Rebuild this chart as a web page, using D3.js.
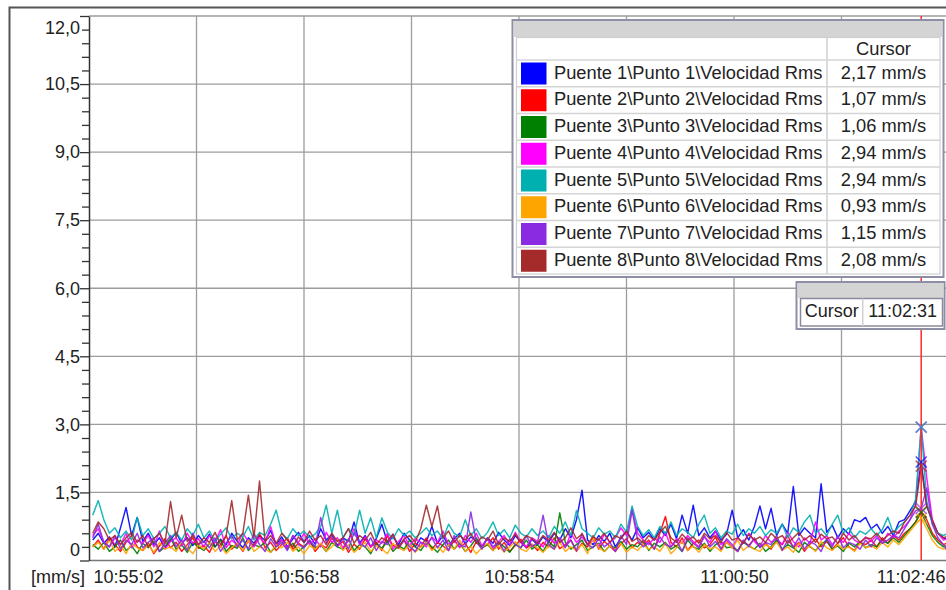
<!DOCTYPE html>
<html><head><meta charset="utf-8">
<script src="https://cdn.jsdelivr.net/npm/d3@7"></script>
<style>
html,body{margin:0;padding:0;background:#fff;}
svg{display:block;font-family:"Liberation Sans",Arial,sans-serif;}
</style></head><body>
<svg id="chart" width="946" height="590"></svg>
<script>
// ---------- DATA ----------
const seriesNames = [
  "Puente 1\\Punto 1\\Velocidad Rms","Puente 2\\Punto 2\\Velocidad Rms",
  "Puente 3\\Punto 3\\Velocidad Rms","Puente 4\\Punto 4\\Velocidad Rms",
  "Puente 5\\Punto 5\\Velocidad Rms","Puente 6\\Punto 6\\Velocidad Rms",
  "Puente 7\\Punto 7\\Velocidad Rms","Puente 8\\Punto 8\\Velocidad Rms"];
const seriesColors = ["#0000ff","#ff0000","#008000","#ff00ff","#00b0b0","#ffa500","#8a2be2","#a52a2a"];
const cursorValues = [2.17,1.07,1.06,2.94,2.94,0.93,1.15,2.08];
const cursorLabels = ["2,17 mm/s","1,07 mm/s","1,06 mm/s","2,94 mm/s","2,94 mm/s","0,93 mm/s","1,15 mm/s","2,08 mm/s"];
const cursorHeader = "Cursor";
const cursorTime = "11:02:31";
const yTickValues = [0,1.5,3,4.5,6,7.5,9,10.5,12];
const yTickLabels = ["0","1,5","3,0","4,5","6,0","7,5","9,0","10,5","12,0"];
const yMinorStep = 0.3;
const yUnitLabel = "[mm/s]";
const xTickLabels = ["10:55:02","10:56:58","10:58:54","11:00:50","11:02:46"];
const sampleStart = "10:55:04";
const sampleStepSec = 3;

const s1 = [
0.45,0.6,0.38,0.52,0.3,0.72,1.17,0.55,0.95,0.42,0.6,0.35,0.5,0.28,0.45,0.62,0.38,0.5,0.33,0.55,
0.4,0.58,0.3,0.47,0.35,0.6,0.42,0.28,0.5,0.38,0.55,0.44,0.66,0.35,0.52,0.3,0.48,0.62,0.4,0.55,
0.36,0.7,0.45,0.58,0.33,0.5,0.42,0.85,0.38,0.55,0.3,0.48,0.8,0.4,0.52,0.35,0.6,0.45,0.3,0.5,
0.42,0.75,0.38,0.55,0.32,0.48,0.6,0.36,0.52,0.44,0.3,0.5,0.38,0.62,0.45,0.33,0.55,0.4,0.28,0.47,
0.35,0.52,0.4,0.6,0.45,0.7,0.5,0.9,1.55,0.45,0.35,0.55,0.42,0.6,0.3,0.5,0.65,0.45,0.72,0.5,
0.62,0.45,0.7,0.55,0.8,0.48,1.0,0.6,1.22,0.55,0.72,0.5,0.65,0.45,0.58,1.11,0.5,0.68,0.45,0.75,
1.2,0.7,1.15,0.55,0.8,0.6,1.63,0.55,0.72,0.6,0.5,1.69,0.62,0.78,0.5,0.7,0.58,0.9,0.85,0.95,
0.7,0.8,0.6,0.75,0.55,0.85,0.9,1.1,1.3,2.17,1.2,0.85,0.6,0.5,0.45,0.4,0.42,0.38];
const s2 = [
0.3,0.45,0.25,0.5,0.35,0.2,0.4,0.55,0.3,0.22,0.38,0.15,0.32,0.48,0.28,0.4,0.2,0.35,0.5,0.27,
0.33,0.18,0.42,0.3,0.55,0.25,0.38,0.2,0.45,0.32,0.6,0.28,0.4,0.22,0.35,0.5,0.25,0.38,0.3,0.45,
0.2,0.35,0.28,0.5,0.32,0.42,0.18,0.36,0.25,0.48,0.3,0.4,0.22,0.55,0.33,0.27,0.45,0.2,0.38,0.3,
0.5,0.25,0.4,0.32,0.22,0.45,0.3,0.38,0.18,0.42,0.28,0.35,0.5,0.25,0.4,0.2,0.33,0.47,0.28,0.36,
0.22,0.4,0.3,0.5,0.26,0.35,0.45,0.2,0.38,0.3,0.55,0.25,0.42,0.32,0.2,0.37,0.48,0.28,0.4,0.33,
0.45,0.25,0.6,0.97,0.4,0.3,0.5,0.22,0.38,0.45,0.28,0.35,0.52,0.25,0.4,0.3,0.2,0.42,0.33,0.48,
0.3,0.38,0.25,0.45,0.35,0.55,0.28,0.4,0.2,0.36,0.48,0.3,0.42,0.25,0.38,0.5,0.3,0.22,0.4,0.35,
0.45,0.3,0.5,0.38,0.55,0.45,0.6,0.7,0.85,1.07,0.9,0.6,0.45,0.35,0.4,0.3,0.35,0.28];
const s3 = [
0.35,0.25,0.4,0.2,0.3,0.45,0.22,0.32,0.15,0.38,0.28,0.42,0.2,0.3,0.5,0.25,0.35,0.18,0.4,0.3,
0.22,0.38,0.3,0.45,0.2,0.33,0.27,0.5,0.22,0.35,0.3,0.4,0.18,0.32,0.45,0.25,0.38,0.2,0.3,0.42,
0.28,0.35,0.2,0.4,0.3,0.25,0.48,0.22,0.35,0.3,0.15,0.38,0.27,0.42,0.2,0.33,0.25,0.45,0.3,0.22,
0.4,0.3,0.18,0.35,0.45,0.25,0.38,0.2,0.32,0.5,0.28,0.35,0.22,0.4,0.3,0.18,0.36,0.28,0.45,0.25,
0.35,0.2,0.42,0.3,1.05,0.4,0.25,0.35,0.45,0.22,0.3,0.38,0.2,0.32,0.28,0.42,0.25,0.35,0.3,0.45,
0.22,0.38,0.3,0.4,0.25,0.33,0.2,0.45,0.3,0.25,0.38,0.2,0.35,0.42,0.28,0.3,0.22,0.4,0.32,0.25,
0.38,0.2,0.3,0.45,0.25,0.35,0.28,0.18,0.4,0.3,0.22,0.35,0.45,0.25,0.32,0.2,0.38,0.3,0.42,0.28,
0.35,0.3,0.45,0.38,0.5,0.4,0.55,0.7,0.85,1.06,0.8,0.55,0.4,0.3,0.35,0.28,0.32,0.25];
const s4 = [
0.55,0.7,0.4,0.3,0.5,0.35,0.6,0.28,0.45,0.38,0.55,0.3,0.65,0.25,0.42,0.5,0.32,0.6,0.38,0.48,
0.3,0.55,0.4,0.68,0.28,0.45,0.35,0.6,0.42,0.3,0.5,0.38,0.75,0.32,0.46,0.28,0.55,0.4,0.6,0.35,
0.48,0.3,0.62,0.4,0.5,0.28,0.44,0.7,0.35,0.52,0.3,0.45,0.38,0.6,0.25,0.42,0.55,0.33,0.48,0.4,
0.3,0.52,0.4,0.65,0.35,0.45,0.28,0.55,0.4,0.6,0.32,0.48,0.25,0.42,0.55,0.35,0.62,0.4,0.3,0.5,
0.42,0.3,0.55,0.38,0.48,0.28,0.6,0.4,0.52,0.35,0.45,0.3,0.58,0.4,0.5,0.72,0.55,1.15,0.6,0.45,
0.35,0.5,0.4,0.62,0.3,0.48,0.38,0.55,0.42,0.3,0.52,0.4,0.65,0.35,0.45,0.28,0.5,0.38,0.6,0.42,
0.3,0.55,0.4,0.48,0.35,0.62,0.42,0.3,0.5,0.38,0.85,0.45,0.55,0.35,0.5,0.4,0.6,0.45,0.38,0.52,
0.42,0.55,0.38,0.6,0.5,0.65,0.75,0.9,1.25,2.94,1.82,0.9,0.6,0.45,0.5,0.4,0.45,0.38];
const s5 = [
1.0,1.32,0.9,0.6,0.72,0.5,0.65,0.45,0.95,0.55,0.7,0.48,0.6,0.75,0.5,0.62,0.45,0.7,0.55,0.8,
0.5,0.65,0.42,0.58,0.72,0.48,0.6,0.52,0.75,0.45,0.62,0.55,0.8,1.11,0.6,0.48,0.7,0.55,0.65,0.5,
0.58,0.75,1.22,0.6,1.11,0.5,0.7,0.55,1.11,0.6,0.94,0.5,0.94,0.62,0.48,0.7,0.55,0.65,0.5,0.6,
0.72,0.55,0.65,0.48,0.8,0.6,0.52,0.9,0.55,0.7,0.48,0.62,0.85,0.55,0.68,0.5,0.78,0.6,0.52,0.7,
0.55,0.65,0.5,0.75,0.6,0.85,0.55,1.1,0.7,0.6,0.5,0.72,0.58,0.65,0.5,0.8,0.62,1.2,0.75,0.55,
0.68,0.5,0.75,0.6,0.85,0.55,0.7,0.62,0.5,0.8,1.0,0.6,0.72,0.5,0.65,0.58,0.8,0.55,0.7,0.6,
0.75,0.55,0.68,0.6,0.8,0.5,0.72,0.62,0.85,1.0,0.6,0.7,0.55,0.8,1.0,0.6,0.72,0.5,0.65,0.58,
0.7,0.55,0.68,0.95,0.6,0.75,0.85,1.0,1.35,2.94,1.3,0.8,0.6,0.55,0.62,0.5,0.58,0.52];
const s6 = [
0.3,0.4,0.25,0.45,0.2,0.32,0.15,0.38,0.28,0.22,0.35,0.18,0.4,0.25,0.3,0.2,0.42,0.28,0.15,0.35,
0.25,0.4,0.2,0.32,0.15,0.28,0.38,0.22,0.45,0.2,0.3,0.25,0.18,0.35,0.28,0.4,0.2,0.3,0.15,0.33,
0.25,0.38,0.2,0.3,0.45,0.22,0.35,0.18,0.28,0.4,0.2,0.32,0.25,0.15,0.38,0.28,0.22,0.35,0.18,0.3,
0.4,0.22,0.32,0.18,0.35,0.25,0.45,0.2,0.3,0.15,0.28,0.38,0.22,0.33,0.18,0.3,0.42,0.25,0.2,0.35,
0.28,0.18,0.32,0.25,0.4,0.2,0.3,0.22,0.35,0.15,0.5,0.28,0.2,0.33,0.25,0.38,0.18,0.3,0.22,0.35,
0.25,0.3,0.2,0.38,0.15,0.28,0.42,0.22,0.32,0.18,0.35,0.25,0.3,0.2,0.4,0.28,0.45,0.22,0.33,0.25,
0.2,0.35,0.28,0.4,0.22,0.3,0.18,0.38,0.25,0.32,0.2,0.42,0.28,0.22,0.35,0.25,0.3,0.2,0.38,0.28,
0.32,0.25,0.4,0.3,0.45,0.35,0.5,0.65,0.8,0.93,0.7,0.45,0.3,0.25,0.3,0.22,0.28,0.2];
const s7 = [
0.5,0.8,0.4,0.3,0.55,0.25,0.45,0.35,0.6,0.28,0.4,0.5,0.2,0.38,0.55,0.3,0.45,0.22,0.6,0.35,
0.42,0.28,0.5,0.2,0.38,0.55,0.3,0.45,0.25,0.6,0.35,0.2,0.48,0.3,0.4,0.22,0.55,0.35,0.28,0.45,
0.3,0.95,0.4,0.55,0.3,0.48,0.25,0.62,0.38,0.3,0.5,0.22,0.42,0.35,0.58,0.28,0.45,0.3,0.2,0.4,
0.35,0.5,0.28,0.45,0.22,0.55,0.35,0.3,1.07,0.4,0.25,0.5,0.3,0.42,0.2,0.48,0.35,0.28,0.55,0.3,
0.4,1.0,0.35,0.25,0.5,0.3,0.45,0.22,0.6,0.35,0.28,0.48,0.3,0.4,0.2,0.55,0.35,1.1,0.45,0.3,
0.4,0.25,0.52,0.35,0.3,0.45,0.2,0.5,0.38,0.28,0.55,0.3,0.42,0.25,0.48,0.35,0.2,0.45,0.3,0.5,
0.28,0.4,0.35,0.55,0.22,0.45,0.3,0.5,0.25,0.42,0.35,0.2,0.48,0.3,0.55,0.28,0.4,0.35,0.25,0.45,
0.3,0.5,0.38,0.45,0.55,0.5,0.7,0.9,1.1,1.15,1.6,0.8,0.5,0.35,0.15,0.3,0.25,0.35];
const s8 = [
0.6,0.85,0.7,0.45,0.55,0.35,0.5,0.62,0.4,0.55,0.3,0.48,0.6,0.38,1.3,0.5,1.0,0.42,0.55,0.35,
0.5,0.4,0.62,0.35,0.55,1.32,0.45,0.6,1.44,0.5,1.75,0.42,0.55,0.38,0.6,0.45,0.3,0.52,0.4,0.65,
0.45,0.55,0.35,0.6,0.42,0.5,0.7,0.38,0.55,0.45,0.62,0.35,0.5,0.42,0.58,0.3,0.48,0.55,0.4,0.7,
1.22,0.75,1.2,0.5,0.65,0.4,0.55,0.45,0.6,0.38,0.52,0.45,0.65,0.35,0.5,0.42,0.58,0.4,0.55,0.48,
0.38,0.55,0.45,0.62,0.4,0.5,0.72,0.48,0.58,0.35,0.52,0.45,0.6,0.4,0.55,0.48,0.65,0.42,0.5,0.38,
0.55,0.45,0.62,0.75,0.5,0.4,0.58,0.45,0.52,0.38,0.6,0.48,0.55,0.4,0.62,0.45,0.5,0.38,0.58,0.45,
0.52,0.4,0.6,0.48,0.55,0.38,0.5,0.62,0.45,0.55,0.4,0.58,0.48,0.52,0.38,0.6,0.45,0.55,0.4,0.5,
0.48,0.6,0.45,0.55,0.65,0.6,0.85,1.0,1.2,2.08,1.2,0.9,0.6,0.5,0.55,0.45,0.5,0.4];
const seriesValues = [s1,s2,s3,s4,s5,s6,s7,s8];

// ---------- CHART ----------
const svg = d3.select("#chart");
const parse = d3.timeParse("%H:%M:%S");
const fmt = d3.timeFormat("%H:%M:%S");
const L = 89, R = 946, T = 16, B = 560.5;
const tickDates = xTickLabels.map(parse);
const x = d3.scaleTime().domain([tickDates[0], tickDates[tickDates.length-1]]).range([L, 949]);
const y = d3.scaleLinear().domain([0, 12]).range([B, T]);
const t0 = parse(sampleStart);
const timeAt = i => new Date(t0.getTime() + i*sampleStepSec*1000);

// outer frame
svg.append("path").attr("d", `M9.5,590V7.5H946`).attr("fill","none").attr("stroke","#555").attr("stroke-width",2);

// grid
const grid = svg.append("g").attr("stroke","#9c9c9c").attr("stroke-width",1.3);
yTickValues.filter(v => v > 0).forEach(v => {
  grid.append("line").attr("x1",L).attr("x2",R).attr("y1",y(v)).attr("y2",y(v));
});
const gridDates = [];
tickDates.forEach((d,i) => {
  gridDates.push(d);
  if (i < tickDates.length-1) gridDates.push(new Date((d.getTime()+tickDates[i+1].getTime())/2));
});
gridDates.slice(1).forEach(d => {
  grid.append("line").attr("x1",x(d)).attr("x2",x(d)).attr("y1",T).attr("y2",B);
});

// clip
svg.append("clipPath").attr("id","clip").append("rect").attr("x",L).attr("y",0).attr("width",R-L).attr("height",B);

// lines
const line = d3.line().x((d,i) => x(timeAt(i))).y(d => y(d));
const lg = svg.append("g").attr("clip-path","url(#clip)");
seriesValues.forEach((vals,k) => {
  lg.append("path").datum(vals).attr("d", line).attr("fill","none")
    .attr("stroke", seriesColors[k]).attr("stroke-width",1.45).attr("stroke-linejoin","round").attr("opacity",0.9);
});

// cursor line
const cx = x(parse(cursorTime));
svg.append("line").attr("x1",cx).attr("x2",cx).attr("y1",T).attr("y2",B).attr("stroke","#ff2a2a").attr("stroke-width",1.5);

// cursor markers
seriesValues.forEach((vals,k) => {
  const py = y(cursorValues[k]), s = 5.5;
  svg.append("path").attr("d", `M${cx-s},${py-s}L${cx+s},${py+s}M${cx-s},${py+s}L${cx+s},${py-s}`)
    .attr("stroke", seriesColors[k]).attr("stroke-width",1.5).attr("fill","none").attr("opacity",0.7);
});

// x axis
svg.append("line").attr("x1",L).attr("x2",R).attr("y1",B).attr("y2",B).attr("stroke","#777").attr("stroke-width",1.5);
const xAxis = svg.append("g").attr("transform",`translate(0,${B})`)
  .call(d3.axisBottom(x).tickValues(tickDates).tickSize(0).tickFormat(fmt));
xAxis.select(".domain").remove();
xAxis.selectAll("text").attr("font-size",18).attr("font-family","Liberation Sans, Arial, sans-serif")
  .attr("fill","#222").attr("y",22.5).attr("dy",0);
xAxis.selectAll("text").filter((d,i) => i === 0).attr("text-anchor","start").attr("x",4);
xAxis.selectAll("text").filter((d,i) => i === tickDates.length-1).attr("text-anchor","end").attr("x",-4);
svg.append("text").attr("x",85).attr("y",583).attr("text-anchor","end").attr("font-size",18).attr("fill","#222").text(yUnitLabel);

// y axis
const minors = d3.range(0, 12 + 1e-9, yMinorStep).map(v => +v.toFixed(2)).filter(v => !yTickValues.includes(v));
const yMinor = svg.append("g").attr("transform",`translate(${L},0)`)
  .call(d3.axisLeft(y).tickValues(minors).tickSize(7).tickSizeOuter(0).tickFormat(""));
yMinor.select(".domain").remove();
yMinor.selectAll("line").attr("stroke","#333").attr("stroke-width",1.3);
const yAxis = svg.append("g").attr("transform",`translate(${L},0)`)
  .call(d3.axisLeft(y).tickValues(yTickValues).tickSize(9).tickSizeOuter(0).tickPadding(0)
    .tickFormat((d,i) => yTickLabels[i]));
yAxis.select(".domain").attr("stroke","#333").attr("stroke-width",1.5);
yAxis.selectAll("line").attr("stroke","#333").attr("stroke-width",1.3);
yAxis.selectAll("text").attr("font-size",18).attr("font-family","Liberation Sans, Arial, sans-serif").attr("fill","#222");
yAxis.selectAll("text").filter(d => d === 12).attr("dy",0).attr("y",17);
yAxis.selectAll("text").filter(d => d === 0).attr("dy",0).attr("y",-5.5);

// legend box
const leg = svg.append("g").attr("font-size",18.3).attr("fill","#222");
leg.append("rect").attr("x",512.5).attr("y",20).attr("width",431).attr("height",257)
  .attr("fill","#fff").attr("stroke","#8e8ea6").attr("stroke-width",2);
leg.append("rect").attr("x",513.5).attr("y",21).attr("width",429).attr("height",16).attr("fill","#d4d4d4");
leg.append("rect").attr("x",516.5).attr("y",37.5).attr("width",423.5).attr("height",236.5)
  .attr("fill","#fff").attr("stroke","#cfcfcf").attr("stroke-width",1.2);
const rowTop0 = 60, rowH = 26.75, colX = 827;
leg.append("line").attr("x1",colX).attr("x2",colX).attr("y1",37.5).attr("y2",274).attr("stroke","#cfcfcf").attr("stroke-width",1.5);
leg.append("text").attr("x",883.5).attr("y",55).attr("text-anchor","middle").attr("fill","#222").text(cursorHeader);
seriesNames.forEach((name,k) => {
  const top = rowTop0 + k*rowH;
  leg.append("line").attr("x1",516.5).attr("x2",940).attr("y1",top).attr("y2",top).attr("stroke","#d4d4d4").attr("stroke-width",1.5);
  leg.append("rect").attr("x",521).attr("y",top+2.5).attr("width",25.5).attr("height",22).attr("fill",seriesColors[k]);
  leg.append("text").attr("x",554).attr("y",top+18.5).attr("fill","#222").text(name);
  leg.append("text").attr("x",883.5).attr("y",top+18.5).attr("text-anchor","middle").attr("fill","#222").text(cursorLabels[k]);
});

// cursor time box
const cb = svg.append("g").attr("font-size",18);
cb.append("rect").attr("x",796.5).attr("y",282).attr("width",148).attr("height",47)
  .attr("fill","#fff").attr("stroke","#8e8ea6").attr("stroke-width",2);
cb.append("rect").attr("x",797.5).attr("y",283).attr("width",146).attr("height",15).attr("fill","#d4d4d4");
cb.append("rect").attr("x",800.5).attr("y",298.5).attr("width",142).attr("height",27.5)
  .attr("fill","#fff").attr("stroke","#8a8a9c").attr("stroke-width",1.5);
cb.append("line").attr("x1",862.7).attr("x2",862.7).attr("y1",298.5).attr("y2",326).attr("stroke","#cfcfcf").attr("stroke-width",1.5);
cb.append("text").attr("x",831.7).attr("y",317).attr("text-anchor","middle").attr("fill","#222").text(cursorHeader);
cb.append("text").attr("x",902.7).attr("y",317).attr("text-anchor","middle").attr("fill","#222").text(cursorTime);
</script>
</body></html>
